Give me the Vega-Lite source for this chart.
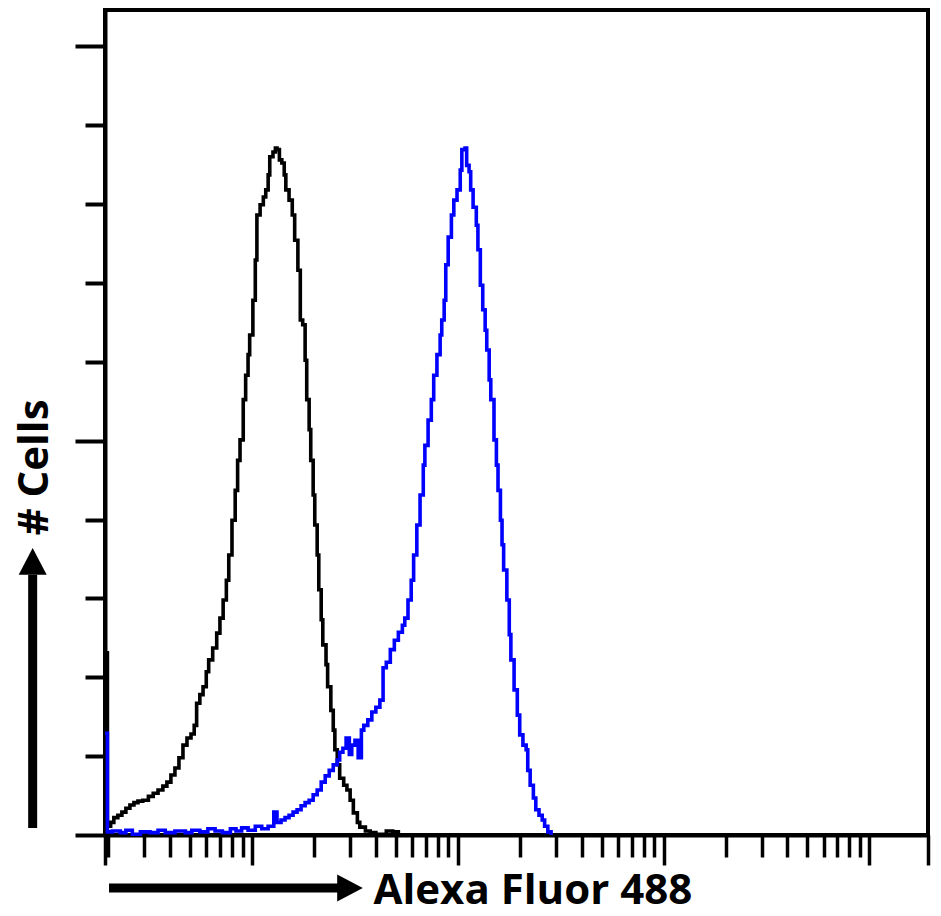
{
  "$schema": "https://vega.github.io/schema/vega-lite/v6.json",
  "width": 823,
  "height": 825,
  "autosize": {"type": "none"},
  "padding": {"left": 105, "top": 10, "right": 13, "bottom": 81},
  "background": "white",
  "config": {"view": {"stroke": "black", "strokeWidth": 4}, "font": "Open Sans"},
  "datasets": {
    "hist": [
      {"sample": "Isotype control", "channel": 0, "cells": 23.1},
      {"sample": "Isotype control", "channel": 3, "cells": 1.1},
      {"sample": "Isotype control", "channel": 7, "cells": 1.6},
      {"sample": "Isotype control", "channel": 11, "cells": 2.2},
      {"sample": "Isotype control", "channel": 16, "cells": 2.5},
      {"sample": "Isotype control", "channel": 21, "cells": 2.9},
      {"sample": "Isotype control", "channel": 26, "cells": 3.4},
      {"sample": "Isotype control", "channel": 31, "cells": 3.8},
      {"sample": "Isotype control", "channel": 36, "cells": 4.1},
      {"sample": "Isotype control", "channel": 41, "cells": 4.3},
      {"sample": "Isotype control", "channel": 47, "cells": 4.4},
      {"sample": "Isotype control", "channel": 54, "cells": 4.9},
      {"sample": "Isotype control", "channel": 60, "cells": 5.3},
      {"sample": "Isotype control", "channel": 66, "cells": 5.7},
      {"sample": "Isotype control", "channel": 72, "cells": 6.2},
      {"sample": "Isotype control", "channel": 77, "cells": 6.7},
      {"sample": "Isotype control", "channel": 82, "cells": 7.6},
      {"sample": "Isotype control", "channel": 87, "cells": 8.5},
      {"sample": "Isotype control", "channel": 92, "cells": 9.8},
      {"sample": "Isotype control", "channel": 97, "cells": 11.4},
      {"sample": "Isotype control", "channel": 102, "cells": 12.3},
      {"sample": "Isotype control", "channel": 107, "cells": 12.8},
      {"sample": "Isotype control", "channel": 111, "cells": 13.9},
      {"sample": "Isotype control", "channel": 114, "cells": 16.7},
      {"sample": "Isotype control", "channel": 118, "cells": 17.8},
      {"sample": "Isotype control", "channel": 122, "cells": 18.8},
      {"sample": "Isotype control", "channel": 126, "cells": 20.7},
      {"sample": "Isotype control", "channel": 129, "cells": 22.2},
      {"sample": "Isotype control", "channel": 134, "cells": 23.7},
      {"sample": "Isotype control", "channel": 139, "cells": 25.6},
      {"sample": "Isotype control", "channel": 143, "cells": 27.5},
      {"sample": "Isotype control", "channel": 147, "cells": 29.8},
      {"sample": "Isotype control", "channel": 151, "cells": 32.3},
      {"sample": "Isotype control", "channel": 154, "cells": 35.5},
      {"sample": "Isotype control", "channel": 158, "cells": 39.9},
      {"sample": "Isotype control", "channel": 162, "cells": 43.7},
      {"sample": "Isotype control", "channel": 165, "cells": 47.5},
      {"sample": "Isotype control", "channel": 168, "cells": 50.1},
      {"sample": "Isotype control", "channel": 172, "cells": 55.2},
      {"sample": "Isotype control", "channel": 175, "cells": 58.3},
      {"sample": "Isotype control", "channel": 178, "cells": 60.9},
      {"sample": "Isotype control", "channel": 180, "cells": 63.4},
      {"sample": "Isotype control", "channel": 184, "cells": 67.8},
      {"sample": "Isotype control", "channel": 187, "cells": 72.9},
      {"sample": "Isotype control", "channel": 189, "cells": 78.6},
      {"sample": "Isotype control", "channel": 193, "cells": 79.9},
      {"sample": "Isotype control", "channel": 197, "cells": 80.9},
      {"sample": "Isotype control", "channel": 200, "cells": 81.8},
      {"sample": "Isotype control", "channel": 203, "cells": 83.7},
      {"sample": "Isotype control", "channel": 205, "cells": 86.0},
      {"sample": "Isotype control", "channel": 209, "cells": 86.6},
      {"sample": "Isotype control", "channel": 212, "cells": 87.1},
      {"sample": "Isotype control", "channel": 214, "cells": 86.9},
      {"sample": "Isotype control", "channel": 217, "cells": 85.6},
      {"sample": "Isotype control", "channel": 220, "cells": 85.2},
      {"sample": "Isotype control", "channel": 223, "cells": 83.7},
      {"sample": "Isotype control", "channel": 225, "cells": 81.8},
      {"sample": "Isotype control", "channel": 229, "cells": 80.5},
      {"sample": "Isotype control", "channel": 233, "cells": 78.6},
      {"sample": "Isotype control", "channel": 236, "cells": 75.4},
      {"sample": "Isotype control", "channel": 240, "cells": 71.6},
      {"sample": "Isotype control", "channel": 243, "cells": 65.3},
      {"sample": "Isotype control", "channel": 246, "cells": 64.7},
      {"sample": "Isotype control", "channel": 249, "cells": 60.2},
      {"sample": "Isotype control", "channel": 251, "cells": 55.2},
      {"sample": "Isotype control", "channel": 254, "cells": 51.4},
      {"sample": "Isotype control", "channel": 256, "cells": 47.5},
      {"sample": "Isotype control", "channel": 259, "cells": 43.1},
      {"sample": "Isotype control", "channel": 261, "cells": 39.3},
      {"sample": "Isotype control", "channel": 264, "cells": 35.5},
      {"sample": "Isotype control", "channel": 266, "cells": 31.1},
      {"sample": "Isotype control", "channel": 269, "cells": 27.3},
      {"sample": "Isotype control", "channel": 271, "cells": 24.1},
      {"sample": "Isotype control", "channel": 275, "cells": 21.6},
      {"sample": "Isotype control", "channel": 277, "cells": 18.8},
      {"sample": "Isotype control", "channel": 281, "cells": 15.8},
      {"sample": "Isotype control", "channel": 284, "cells": 13.3},
      {"sample": "Isotype control", "channel": 286, "cells": 10.8},
      {"sample": "Isotype control", "channel": 289, "cells": 8.9},
      {"sample": "Isotype control", "channel": 292, "cells": 7.2},
      {"sample": "Isotype control", "channel": 297, "cells": 6.3},
      {"sample": "Isotype control", "channel": 301, "cells": 5.7},
      {"sample": "Isotype control", "channel": 305, "cells": 4.4},
      {"sample": "Isotype control", "channel": 309, "cells": 2.8},
      {"sample": "Isotype control", "channel": 314, "cells": 1.6},
      {"sample": "Isotype control", "channel": 317, "cells": 1.0},
      {"sample": "Isotype control", "channel": 324, "cells": 0.5},
      {"sample": "Isotype control", "channel": 330, "cells": 0.3},
      {"sample": "Isotype control", "channel": 337, "cells": 0.1},
      {"sample": "Isotype control", "channel": 350, "cells": 0.5},
      {"sample": "Isotype control", "channel": 358, "cells": 0.4},
      {"sample": "Isotype control", "channel": 365, "cells": 0},
      {"sample": "Antibody", "channel": 0, "cells": 12.9},
      {"sample": "Antibody", "channel": 3, "cells": 0.4},
      {"sample": "Antibody", "channel": 9, "cells": 0.5},
      {"sample": "Antibody", "channel": 19, "cells": 0.3},
      {"sample": "Antibody", "channel": 26, "cells": 0.6},
      {"sample": "Antibody", "channel": 34, "cells": 0.1},
      {"sample": "Antibody", "channel": 44, "cells": 0.4},
      {"sample": "Antibody", "channel": 56, "cells": 0.3},
      {"sample": "Antibody", "channel": 66, "cells": 0.6},
      {"sample": "Antibody", "channel": 75, "cells": 0.3},
      {"sample": "Antibody", "channel": 87, "cells": 0.5},
      {"sample": "Antibody", "channel": 100, "cells": 0.3},
      {"sample": "Antibody", "channel": 108, "cells": 0.6},
      {"sample": "Antibody", "channel": 118, "cells": 0.4},
      {"sample": "Antibody", "channel": 128, "cells": 0.8},
      {"sample": "Antibody", "channel": 137, "cells": 0.5},
      {"sample": "Antibody", "channel": 146, "cells": 0.3},
      {"sample": "Antibody", "channel": 156, "cells": 0.8},
      {"sample": "Antibody", "channel": 163, "cells": 0.5},
      {"sample": "Antibody", "channel": 170, "cells": 0.9},
      {"sample": "Antibody", "channel": 178, "cells": 0.6},
      {"sample": "Antibody", "channel": 187, "cells": 1.1},
      {"sample": "Antibody", "channel": 195, "cells": 0.8},
      {"sample": "Antibody", "channel": 203, "cells": 1.1},
      {"sample": "Antibody", "channel": 210, "cells": 2.9},
      {"sample": "Antibody", "channel": 214, "cells": 1.6},
      {"sample": "Antibody", "channel": 219, "cells": 1.9},
      {"sample": "Antibody", "channel": 224, "cells": 2.2},
      {"sample": "Antibody", "channel": 229, "cells": 2.5},
      {"sample": "Antibody", "channel": 234, "cells": 2.9},
      {"sample": "Antibody", "channel": 239, "cells": 3.2},
      {"sample": "Antibody", "channel": 244, "cells": 3.7},
      {"sample": "Antibody", "channel": 249, "cells": 4.1},
      {"sample": "Antibody", "channel": 254, "cells": 4.4},
      {"sample": "Antibody", "channel": 259, "cells": 5.1},
      {"sample": "Antibody", "channel": 264, "cells": 5.7},
      {"sample": "Antibody", "channel": 269, "cells": 6.7},
      {"sample": "Antibody", "channel": 274, "cells": 7.5},
      {"sample": "Antibody", "channel": 279, "cells": 8.2},
      {"sample": "Antibody", "channel": 284, "cells": 8.9},
      {"sample": "Antibody", "channel": 289, "cells": 9.5},
      {"sample": "Antibody", "channel": 292, "cells": 10.5},
      {"sample": "Antibody", "channel": 296, "cells": 11.0},
      {"sample": "Antibody", "channel": 300, "cells": 12.3},
      {"sample": "Antibody", "channel": 304, "cells": 10.2},
      {"sample": "Antibody", "channel": 307, "cells": 11.4},
      {"sample": "Antibody", "channel": 311, "cells": 12.0},
      {"sample": "Antibody", "channel": 315, "cells": 9.8},
      {"sample": "Antibody", "channel": 319, "cells": 13.3},
      {"sample": "Antibody", "channel": 322, "cells": 13.9},
      {"sample": "Antibody", "channel": 327, "cells": 14.6},
      {"sample": "Antibody", "channel": 332, "cells": 15.6},
      {"sample": "Antibody", "channel": 337, "cells": 16.2},
      {"sample": "Antibody", "channel": 342, "cells": 17.1},
      {"sample": "Antibody", "channel": 346, "cells": 21.2},
      {"sample": "Antibody", "channel": 350, "cells": 21.9},
      {"sample": "Antibody", "channel": 355, "cells": 23.5},
      {"sample": "Antibody", "channel": 360, "cells": 24.7},
      {"sample": "Antibody", "channel": 365, "cells": 25.7},
      {"sample": "Antibody", "channel": 370, "cells": 26.6},
      {"sample": "Antibody", "channel": 373, "cells": 27.5},
      {"sample": "Antibody", "channel": 377, "cells": 29.8},
      {"sample": "Antibody", "channel": 381, "cells": 32.3},
      {"sample": "Antibody", "channel": 384, "cells": 35.5},
      {"sample": "Antibody", "channel": 388, "cells": 39.3},
      {"sample": "Antibody", "channel": 392, "cells": 43.1},
      {"sample": "Antibody", "channel": 396, "cells": 46.9},
      {"sample": "Antibody", "channel": 398, "cells": 49.4},
      {"sample": "Antibody", "channel": 402, "cells": 52.6},
      {"sample": "Antibody", "channel": 406, "cells": 55.2},
      {"sample": "Antibody", "channel": 409, "cells": 58.3},
      {"sample": "Antibody", "channel": 413, "cells": 60.9},
      {"sample": "Antibody", "channel": 417, "cells": 63.4},
      {"sample": "Antibody", "channel": 419, "cells": 65.3},
      {"sample": "Antibody", "channel": 422, "cells": 67.8},
      {"sample": "Antibody", "channel": 424, "cells": 72.3},
      {"sample": "Antibody", "channel": 427, "cells": 75.8},
      {"sample": "Antibody", "channel": 431, "cells": 78.6},
      {"sample": "Antibody", "channel": 434, "cells": 80.5},
      {"sample": "Antibody", "channel": 438, "cells": 81.8},
      {"sample": "Antibody", "channel": 442, "cells": 84.3},
      {"sample": "Antibody", "channel": 444, "cells": 86.9},
      {"sample": "Antibody", "channel": 448, "cells": 87.1},
      {"sample": "Antibody", "channel": 450, "cells": 84.9},
      {"sample": "Antibody", "channel": 453, "cells": 84.1},
      {"sample": "Antibody", "channel": 455, "cells": 81.8},
      {"sample": "Antibody", "channel": 458, "cells": 79.6},
      {"sample": "Antibody", "channel": 462, "cells": 77.3},
      {"sample": "Antibody", "channel": 464, "cells": 74.2},
      {"sample": "Antibody", "channel": 467, "cells": 69.7},
      {"sample": "Antibody", "channel": 470, "cells": 66.6},
      {"sample": "Antibody", "channel": 473, "cells": 64.0},
      {"sample": "Antibody", "channel": 475, "cells": 61.5},
      {"sample": "Antibody", "channel": 478, "cells": 57.7},
      {"sample": "Antibody", "channel": 480, "cells": 55.2},
      {"sample": "Antibody", "channel": 484, "cells": 50.1},
      {"sample": "Antibody", "channel": 487, "cells": 46.9},
      {"sample": "Antibody", "channel": 489, "cells": 43.7},
      {"sample": "Antibody", "channel": 492, "cells": 39.9},
      {"sample": "Antibody", "channel": 494, "cells": 36.8},
      {"sample": "Antibody", "channel": 496, "cells": 33.6},
      {"sample": "Antibody", "channel": 500, "cells": 29.8},
      {"sample": "Antibody", "channel": 503, "cells": 25.4},
      {"sample": "Antibody", "channel": 505, "cells": 22.2},
      {"sample": "Antibody", "channel": 509, "cells": 18.4},
      {"sample": "Antibody", "channel": 513, "cells": 15.2},
      {"sample": "Antibody", "channel": 516, "cells": 12.7},
      {"sample": "Antibody", "channel": 520, "cells": 11.4},
      {"sample": "Antibody", "channel": 524, "cells": 10.8},
      {"sample": "Antibody", "channel": 526, "cells": 8.2},
      {"sample": "Antibody", "channel": 529, "cells": 6.3},
      {"sample": "Antibody", "channel": 533, "cells": 4.7},
      {"sample": "Antibody", "channel": 536, "cells": 3.2},
      {"sample": "Antibody", "channel": 540, "cells": 2.5},
      {"sample": "Antibody", "channel": 544, "cells": 1.9},
      {"sample": "Antibody", "channel": 547, "cells": 1.1},
      {"sample": "Antibody", "channel": 551, "cells": 0.4},
      {"sample": "Antibody", "channel": 555, "cells": 0}
    ]
  },
  "layer": [
    {
      "data": {"name": "hist"},
      "mark": {"type": "line", "interpolate": "step-after", "strokeWidth": 3.6},
      "encoding": {
        "x": {
          "field": "channel",
          "type": "quantitative",
          "scale": {"domain": [0, 1024], "nice": false, "zero": false},
          "axis": {
            "title": "Alexa Fluor 488",
            "labels": false,
            "grid": false,
            "tickCount": 200,
            "values": [0, 4.06, 49.14, 81.13, 105.94, 126.2, 143.34, 158.19, 171.29, 183, 260.06, 305.14, 337.13, 361.94, 382.2, 399.34, 414.19, 427.29, 439, 516.06, 561.14, 593.13, 617.94, 638.2, 655.34, 670.19, 683.29, 695, 772.06, 817.14, 849.13, 873.94, 894.2, 911.34, 926.19, 939.29, 951, 1024],
            "domainColor": "black",
            "domainWidth": 4,
            "tickColor": "black",
            "tickWidth": 3.5,
            "tickSize": {"condition": {"test": "datum.value == 0 || datum.value == 183 || datum.value == 439 || datum.value == 695 || datum.value == 951 || datum.value == 1024", "value": 30}, "value": 22},
            "titleFont": "Open Sans",
            "titleFontSize": 42,
            "titleFontWeight": "bold",
            "titleColor": "black",
            "titleX": 268,
            "titleY": 68,
            "titleAlign": "left",
            "titleBaseline": "alphabetic"
          }
        },
        "y": {
          "field": "cells",
          "type": "quantitative",
          "scale": {"domain": [0, 104.6], "nice": false},
          "axis": {
            "title": "# Cells",
            "labels": false,
            "grid": false,
            "tickCount": 50,
            "values": [0, 10, 20, 30, 40, 50, 60, 70, 80, 90, 100],
            "domainColor": "black",
            "domainWidth": 4,
            "tickColor": "black",
            "tickWidth": 4,
            "tickSize": {"condition": {"test": "datum.value % 50 == 0", "value": 30}, "value": 20},
            "titleFont": "Open Sans",
            "titleFontSize": 42,
            "titleFontWeight": "bold",
            "titleColor": "black",
            "titleAngle": -90,
            "titleX": -58,
            "titleY": 457,
            "titleAlign": "center",
            "titleBaseline": "alphabetic"
          }
        },
        "color": {
          "field": "sample",
          "type": "nominal",
          "scale": {"domain": ["Isotype control", "Antibody"], "range": ["#000000", "#0000ff"]},
          "legend": null
        }
      }
    },
    {
      "data": {"values": [{}]},
      "mark": {"type": "rule", "strokeWidth": 9, "color": "black", "strokeCap": "butt"},
      "encoding": {
        "x": {"datum": 5, "type": "quantitative", "scale": {"domain": [0, 1024], "nice": false, "zero": false}},
        "x2": {"datum": 293},
        "y": {"datum": -6.72, "type": "quantitative", "scale": {"domain": [0, 104.6], "nice": false}}
      }
    },
    {
      "data": {"values": [{}]},
      "mark": {"type": "point", "shape": "M -0.9 -1 L 1 0 L -0.9 1 Z", "filled": true, "opacity": 1, "size": 729, "color": "black", "strokeWidth": 0},
      "encoding": {
        "x": {"datum": 304, "type": "quantitative", "scale": {"domain": [0, 1024], "nice": false, "zero": false}},
        "y": {"datum": -6.72, "type": "quantitative", "scale": {"domain": [0, 104.6], "nice": false}}
      }
    },
    {
      "data": {"values": [{}]},
      "mark": {"type": "rule", "strokeWidth": 9, "color": "black", "strokeCap": "butt"},
      "encoding": {
        "x": {"datum": -90, "type": "quantitative", "scale": {"domain": [0, 1024], "nice": false, "zero": false}},
        "y": {"datum": 0.9, "type": "quantitative", "scale": {"domain": [0, 104.6], "nice": false}},
        "y2": {"datum": 33}
      }
    },
    {
      "data": {"values": [{}]},
      "mark": {"type": "point", "shape": "M -1 0.9 L 0 -1 L 1 0.9 Z", "filled": true, "opacity": 1, "size": 784, "color": "black", "strokeWidth": 0},
      "encoding": {
        "x": {"datum": -90, "type": "quantitative", "scale": {"domain": [0, 1024], "nice": false, "zero": false}},
        "y": {"datum": 34.6, "type": "quantitative", "scale": {"domain": [0, 104.6], "nice": false}}
      }
    }
  ]
}
